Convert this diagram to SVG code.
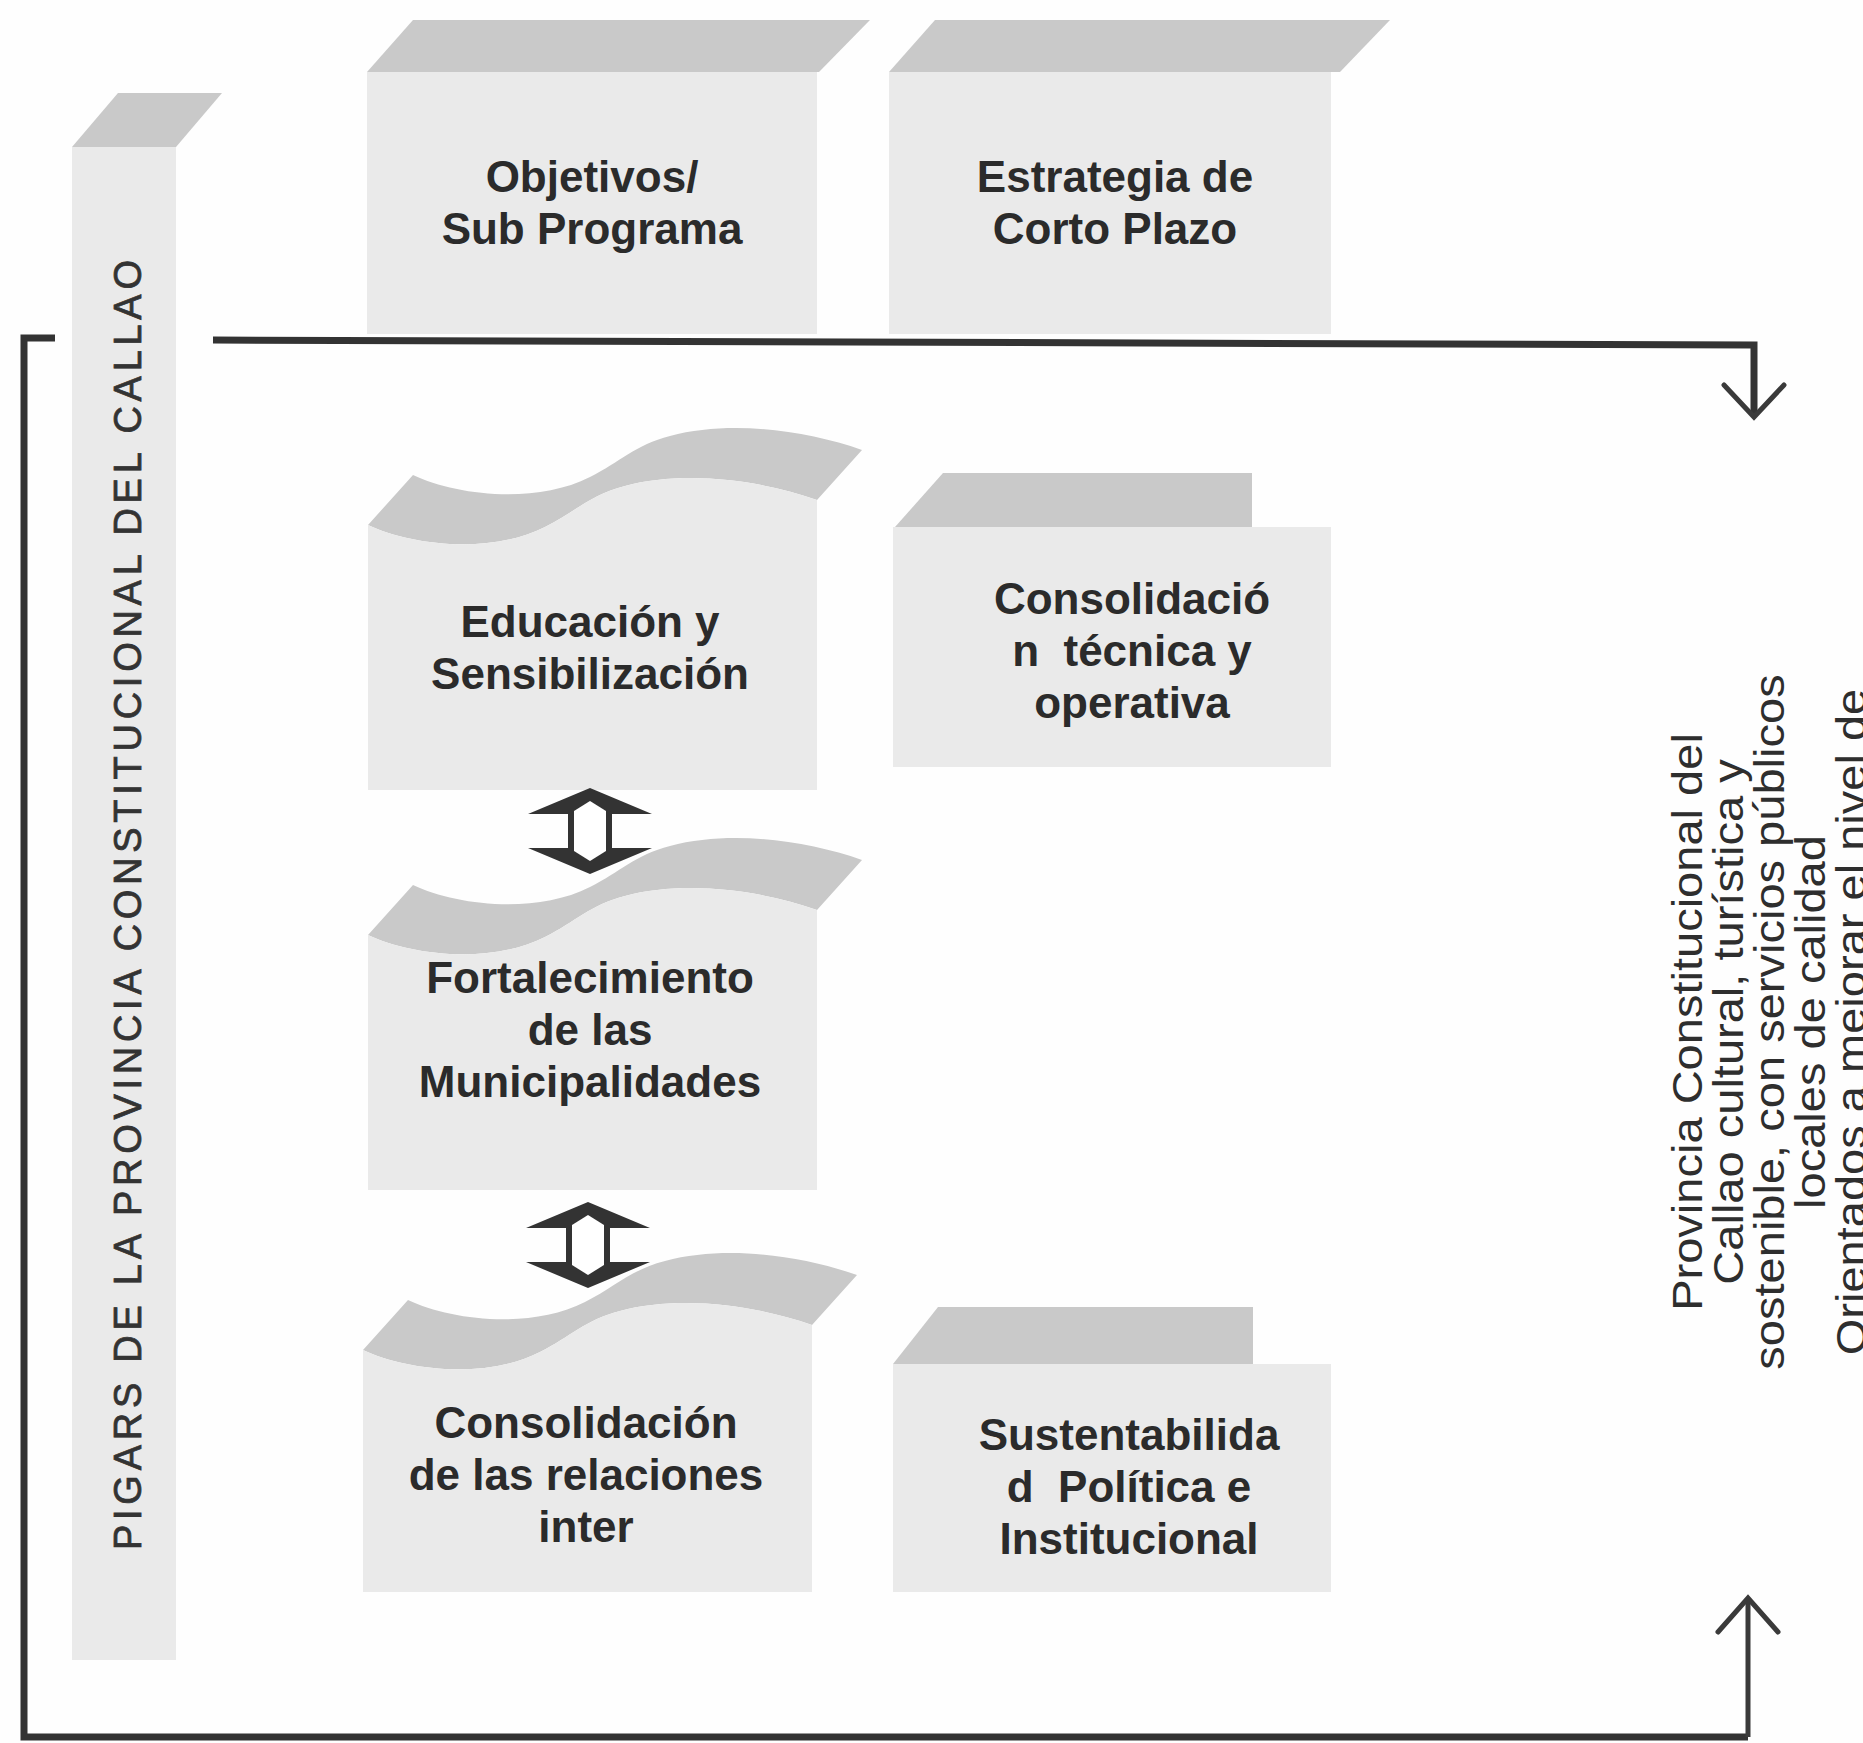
<svg xmlns="http://www.w3.org/2000/svg" width="1863" height="1743" viewBox="0 0 1863 1743">
<defs>
<style>
.body{fill:#eaeaea}
.top{fill:#c9c9c9}
.lbl{font-family:"Liberation Sans",Arial,sans-serif;font-weight:bold;font-size:44px;fill:#2b2b2b;text-anchor:middle}
.vtxt{font-family:"Liberation Sans",Arial,sans-serif;font-size:42px;fill:#2e2e2e;text-anchor:middle}
.ptxt{font-family:"Liberation Sans",Arial,sans-serif;font-size:38px;fill:#333;stroke:#333;stroke-width:0.8;text-anchor:middle}
.ln{fill:none;stroke:#333;stroke-width:7;stroke-linejoin:miter}
.ln2{fill:none;stroke:#3a3a3a;stroke-width:5}
.head{fill:none;stroke:#3a3a3a;stroke-width:5;stroke-linecap:round;stroke-linejoin:miter}
</style>
<g id="dbl">
<polygon fill="#333" points="0,0 62,26 22,26 22,60 62,60 0,86 -62,60 -22,60 -22,26 -62,26"/>
<polygon fill="#fff" points="0,13 16,23 16,63 0,73 -16,63 -16,23"/>
</g>
<path id="waveTop" d="M368,525 C410,545 490,555 545,527 C575,512 590,495 625,486 C685,470 760,480 817,500 L862,450 C805,430 730,420 670,436 C635,445 620,462 590,477 C535,505 455,495 413,475 Z"/>
</defs>
<rect width="1863" height="1743" fill="#fefefe"/>

<g id="pillar">
<polygon class="top" points="118,93 222,93 176,147 72,147"/>
<rect class="body" x="72" y="147" width="104" height="1513"/>
<text class="ptxt" transform="translate(141,905) rotate(-90)" textLength="1290" lengthAdjust="spacing">PIGARS DE LA PROVINCIA CONSTITUCIONAL DEL CALLAO</text>
</g>

<g id="objetivos">
<polygon class="top" points="413,20 870,20 819,72 367,72"/>
<rect class="body" x="367" y="72" width="450" height="262"/>
<text class="lbl" x="592" y="192">Objetivos/</text>
<text class="lbl" x="592" y="244">Sub Programa</text>
</g>

<g id="estrategia">
<polygon class="top" points="935,20 1390,20 1340,72 889,72"/>
<rect class="body" x="889" y="72" width="442" height="262"/>
<text class="lbl" x="1115" y="192">Estrategia de</text>
<text class="lbl" x="1115" y="244">Corto Plazo</text>
</g>

<g id="educacion">
<use href="#waveTop" class="top"/>
<path class="body" d="M368,525 C410,545 490,555 545,527 C575,512 590,495 625,486 C685,470 760,480 817,500 L817,790 L368,790 Z"/>
<text class="lbl" x="590" y="637">Educación y</text>
<text class="lbl" x="590" y="689">Sensibilización</text>
</g>

<g id="tecnica">
<polygon class="top" points="943,473 1252,473 1252,527 895,527"/>
<rect class="body" x="893" y="527" width="438" height="240"/>
<text class="lbl" x="1132" y="614">Consolidació</text>
<text class="lbl" x="1132" y="666" xml:space="preserve">n  técnica y</text>
<text class="lbl" x="1132" y="718">operativa</text>
</g>

<g id="fortalecimiento">
<use href="#waveTop" class="top" transform="translate(0,410)"/>
<path class="body" transform="translate(0,410)" d="M368,525 C410,545 490,555 545,527 C575,512 590,495 625,486 C685,470 760,480 817,500 L817,780 L368,780 Z"/>
<text class="lbl" x="590" y="993">Fortalecimiento</text>
<text class="lbl" x="590" y="1045">de las</text>
<text class="lbl" x="590" y="1097">Municipalidades</text>
</g>

<g id="relaciones">
<use href="#waveTop" class="top" transform="translate(-5,825)"/>
<path class="body" transform="translate(-5,825)" d="M368,525 C410,545 490,555 545,527 C575,512 590,495 625,486 C685,470 760,480 817,500 L817,767 L368,767 Z"/>
<text class="lbl" x="586" y="1438">Consolidación</text>
<text class="lbl" x="586" y="1490">de las relaciones</text>
<text class="lbl" x="586" y="1542">inter</text>
</g>

<g id="sustentabilidad">
<polygon class="top" points="938,1307 1253,1307 1253,1364 893,1364"/>
<rect class="body" x="893" y="1364" width="438" height="228"/>
<text class="lbl" x="1129" y="1450">Sustentabilida</text>
<text class="lbl" x="1129" y="1502" xml:space="preserve">d  Política e</text>
<text class="lbl" x="1129" y="1554">Institucional</text>
</g>

<g id="vision">
<text class="vtxt" transform="translate(1702,1022) rotate(-90) scale(1.12,1)">Provincia Constitucional del</text>
<text class="vtxt" transform="translate(1743,1022) rotate(-90) scale(1.12,1)">Callao cultural, turística y</text>
<text class="vtxt" transform="translate(1784,1022) rotate(-90) scale(1.12,1)">sostenible, con servicios públicos</text>
<text class="vtxt" transform="translate(1825,1022) rotate(-90) scale(1.12,1)">locales de calidad</text>
<text class="vtxt" transform="translate(1866,1022) rotate(-90) scale(1.12,1)">Orientados a mejorar el nivel de</text>
</g>

<g id="connectors">
<path class="ln" d="M55,338 H24 V1737 H1748"/>
<path class="ln" d="M213,340 L1754,345 V415"/>
<path class="head" d="M1724,385 L1754,417 L1784,385"/>
<path class="ln2" d="M1748,1737 V1600"/>
<path class="head" d="M1718,1632 L1748,1598 L1778,1632"/>
<use href="#dbl" transform="translate(590,788)"/>
<use href="#dbl" transform="translate(588,1202)"/>
</g>
</svg>
